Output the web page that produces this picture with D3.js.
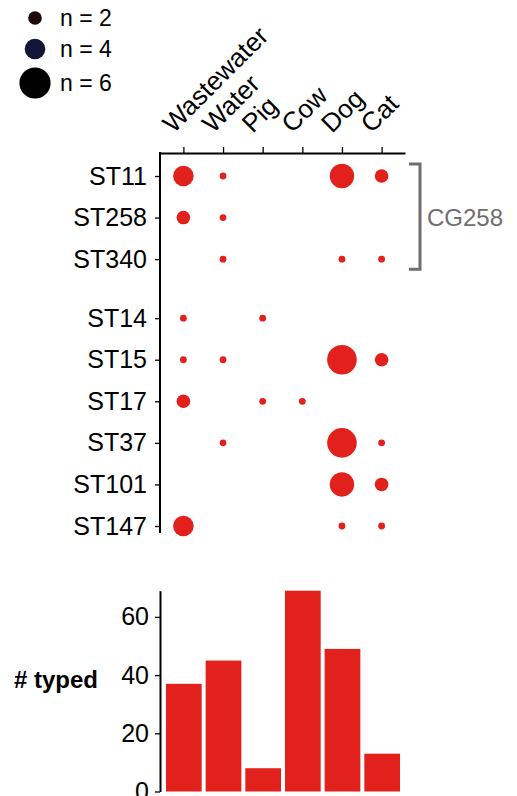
<!DOCTYPE html>
<html>
<head>
<meta charset="utf-8">
<script src="https://cdn.jsdelivr.net/npm/d3@7"></script>
<style>
  body { margin: 0; background: #fff; }
  text { font-family: "Liberation Sans", Arial, Helvetica, sans-serif; }
</style>
</head>
<body>
<div id="chart"></div>
<script>
var sources = ["Wastewater", "Water", "Pig", "Cow", "Dog", "Cat"]
var sequenceTypes = ["ST11", "ST258", "ST340", "ST14", "ST15", "ST17", "ST37", "ST101", "ST147"]
var cg258Types = ["ST11", "ST258", "ST340"]

// isolates per ST and source, same order as sources
var stCounts = [
  [4, 1, 0, 0, 5, 2],
  [2, 1, 0, 0, 0, 0],
  [0, 1, 0, 0, 1, 1],
  [1, 0, 1, 0, 0, 0],
  [1, 1, 0, 0, 6, 2],
  [2, 0, 1, 1, 0, 0],
  [0, 1, 0, 0, 6, 1],
  [0, 0, 0, 0, 5, 2],
  [4, 0, 0, 0, 1, 1]
]

var typedTotals = [37, 45, 8, 69, 49, 13]
var barTicks = [0, 20, 40, 60]

var legendSizes = [2, 4, 6]
var legendColors = ["#1d0a0a", "#121538", "#000000"]

;(function () {

  var width = 517,
      height = 796

  var red = "#e2211c"
  var grey = "#6e6e6e"

  var svg = d3.select("#chart").append("svg")
      .attr("width", width)
      .attr("height", height)

  var axisX = 160,
      dotTop = 153,
      dotBottom = 533

  // columns shared by the dots and the bars
  var xDot = d3.scalePoint()
      .domain(sources)
      .range([axisX, 405])
      .padding(0.59)

  var xBar = d3.scaleBand()
      .domain(sources)
      .range([164, 402])
      .paddingInner(0.1)
      .paddingOuter(0.05)

  // small extra gap after the CG258 block
  var groupGap = 0.42
  var slots = sequenceTypes.map(function(d, i) { return i + (i >= cg258Types.length ? groupGap : 0) })

  var yDot = d3.scaleLinear()
      .domain([0, d3.max(slots)])
      .range([176, 526])

  var radiusScale = d3.scaleLinear()
      .domain([1, 2, 4, 5, 6])
      .range([3.4, 6.8, 10.3, 12.2, 14.8])

  // legend
  var legend = svg.append("g").attr("class", "legend")
  var legendY = [18, 49, 83]

  legend.selectAll("circle")
    .data(legendSizes)
    .enter().append("circle")
    .attr("cx", 35)
    .attr("cy", function(d, i) { return legendY[i] })
    .attr("r", function(d) { return radiusScale(d) + (d == 6 ? 0.8 : 0) })
    .attr("fill", function(d, i) { return legendColors[i] })

  legend.selectAll("text")
    .data(legendSizes)
    .enter().append("text")
    .attr("x", 60)
    .attr("y", function(d, i) { return legendY[i] })
    .attr("dy", "0.36em")
    .attr("font-size", 23)
    .text(function(d) { return "n = " + d })

  // top axis with slanted source names
  var topAxis = svg.append("g")
      .attr("transform", "translate(0," + dotTop + ")")
      .call(d3.axisTop(xDot).tickSize(6).tickSizeOuter(0).tickFormat(""))

  topAxis.select(".domain").attr("stroke-width", 2)
  topAxis.selectAll(".tick line").attr("stroke-width", 1.3)

  svg.selectAll(".source-label")
    .data(sources)
    .enter().append("text")
    .attr("class", "source-label")
    .attr("transform", function(d) {
      return "translate(" + (xDot(d) - 10) + "," + (dotTop - 19) + ") rotate(-45)"
    })
    .attr("font-size", 26)
    .text(function(d) { return d })

  // left axis with ST names
  var leftAxis = svg.append("g")
      .attr("transform", "translate(" + axisX + ",0)")
      .call(d3.axisLeft(yDot)
        .tickValues(slots)
        .tickSize(5)
        .tickPadding(8)
        .tickFormat(function(d, i) { return sequenceTypes[i] }))

  leftAxis.select(".domain").remove()
  leftAxis.selectAll(".tick line").attr("stroke-width", 1.3)
  leftAxis.selectAll(".tick text")
    .attr("font-size", 25)
    .attr("font-family", null)
    .attr("fill", "#000")

  leftAxis.append("line")
    .attr("y1", dotTop - 1)
    .attr("y2", dotBottom)
    .attr("stroke", "#000")
    .attr("stroke-width", 2)

  // dots
  var cells = []
  sequenceTypes.forEach(function(st, i) {
    stCounts[i].forEach(function(n, j) {
      if (n > 0) cells.push({ st: st, slot: slots[i], source: sources[j], n: n })
    })
  })

  svg.selectAll(".st-dot")
    .data(cells)
    .enter().append("circle")
    .attr("class", "st-dot")
    .attr("cx", function(d) { return xDot(d.source) })
    .attr("cy", function(d) { return yDot(d.slot) })
    .attr("r", function(d) { return radiusScale(d.n) })
    .attr("fill", red)

  // CG258 bracket
  var bTop = yDot(slots[0]) - 12,
      bBottom = yDot(slots[cg258Types.length - 1]) + 10

  svg.append("path")
    .attr("d", "M409," + bTop + "H420V" + bBottom + "H409")
    .attr("fill", "none")
    .attr("stroke", grey)
    .attr("stroke-width", 3)

  svg.append("text")
    .attr("x", 427)
    .attr("y", yDot(slots[1]))
    .attr("dy", "0.36em")
    .attr("font-size", 24)
    .attr("fill", grey)
    .text("CG258")

  // bar chart of typed isolates
  var yBar = d3.scaleLinear()
      .domain([0, d3.max(typedTotals)])
      .range([791.5, 590.7])

  var barAxis = svg.append("g")
      .attr("transform", "translate(" + axisX + ",0)")
      .call(d3.axisLeft(yBar).tickValues(barTicks).tickSize(5).tickPadding(6).tickSizeOuter(0))

  barAxis.select(".domain").attr("stroke-width", 2)
  barAxis.selectAll(".tick line").attr("stroke-width", 1.3)
  barAxis.selectAll(".tick text")
    .attr("font-size", 25)
    .attr("font-family", null)
    .attr("fill", "#000")

  svg.selectAll(".typed-bar")
    .data(typedTotals)
    .enter().append("rect")
    .attr("class", "typed-bar")
    .attr("x", function(d, i) { return xBar(sources[i]) })
    .attr("width", xBar.bandwidth())
    .attr("y", function(d) { return yBar(d) })
    .attr("height", function(d) { return yBar(0) - yBar(d) })
    .attr("fill", red)

  svg.append("text")
    .attr("x", 14)
    .attr("y", 688)
    .attr("font-size", 24)
    .attr("font-weight", "bold")
    .text("# typed")

})()
</script>
</body>
</html>
